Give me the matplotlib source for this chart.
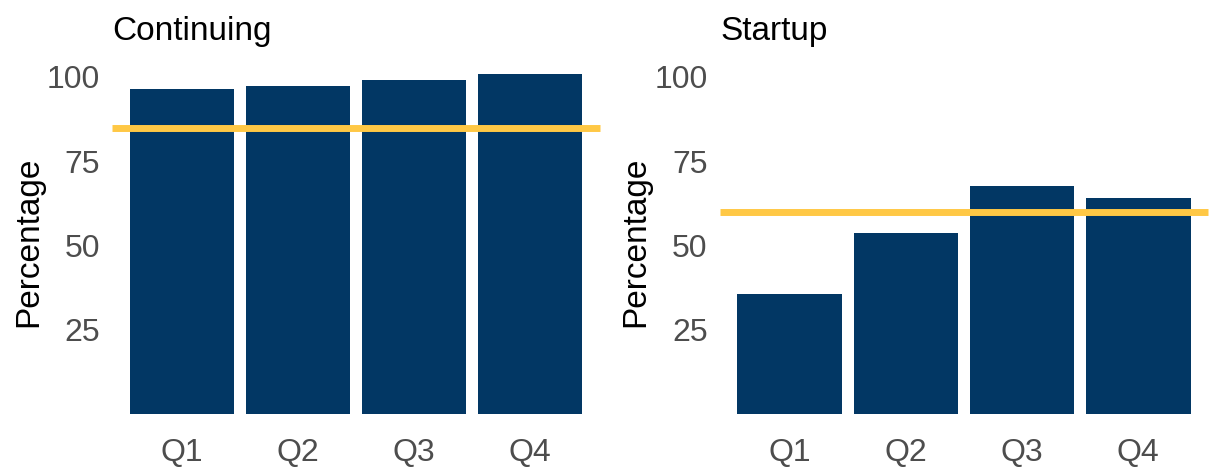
import matplotlib
matplotlib.use("Agg")
import matplotlib.pyplot as plt
import numpy as np

plt.rcParams['font.family'] = ['Liberation Sans', 'DejaVu Sans']

quarters = ['Q1', 'Q2', 'Q3', 'Q4']
continuing = [96.4, 97.2, 99.2, 100.9]
startup = [35.7, 53.7, 67.7, 64.2]
targets = {'Continuing': 85, 'Startup': 60}
panels = {'Continuing': continuing, 'Startup': startup}

navy = '#023764'
gold = '#FFC845'
grey = '#4D4D4D'

W, H = 1217, 467
fig = plt.figure(figsize=(W / 100, H / 100), dpi=100)

# panel boxes in pixels: left, right; y range shared
lefts = [112.4, 720.0]
rights = [599.6, 1208.0]
y_zero, px_per_unit = 414.3, 3.373
y_top_val = 104
y_top_px = y_zero - y_top_val * px_per_unit

for (name, vals), l, r in zip(panels.items(), lefts, rights):
    ax = fig.add_axes([l / W, 1 - y_zero / H, (r - l) / W, (y_zero - y_top_px) / H])
    x = np.arange(len(quarters))
    ax.bar(x, vals, width=0.9, color=navy, clip_on=False, zorder=2)
    ax.axhline(targets[name], color=gold, lw=5, zorder=3, clip_on=False,
               solid_capstyle='butt')
    ax.set_xlim(-0.6, len(quarters) - 0.4)
    ax.set_ylim(0, y_top_val)
    ax.set_xticks(x)
    ax.set_xticklabels(quarters)
    ax.set_yticks([25, 50, 75, 100])
    ax.tick_params(length=0, labelsize=23, labelcolor=grey)
    ax.tick_params(axis='x', pad=17)
    ax.tick_params(axis='y', pad=9)
    for s in ax.spines.values():
        s.set_visible(False)
    fig.text(l / W, 1 - 40 / H, name, fontsize=24, color='black',
             ha='left', va='baseline')
    fig.text((l - 84) / W, 1 - 242 / H, 'Percentage', fontsize=24,
             rotation=90, ha='center', va='center', color='black')

fig.savefig('out.png', dpi=100)
